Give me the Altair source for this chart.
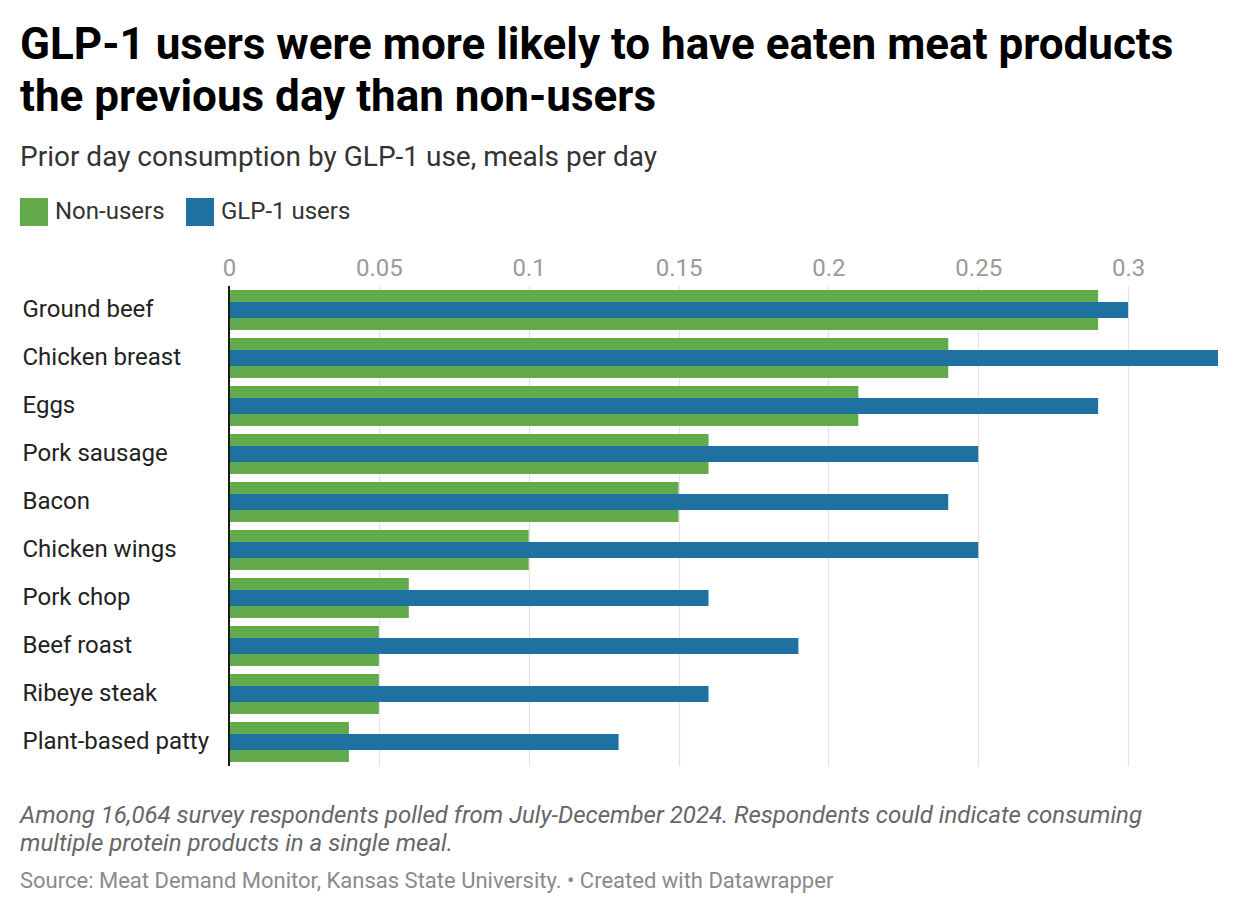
import altair as alt
import pandas as pd

# Prior-day consumption, meals per day
products = [
    "Ground beef", "Chicken breast", "Eggs", "Pork sausage", "Bacon",
    "Chicken wings", "Pork chop", "Beef roast", "Ribeye steak", "Plant-based patty",
]
non_users = [0.29, 0.24, 0.21, 0.16, 0.15, 0.10, 0.06, 0.05, 0.05, 0.04]
glp1_users = [0.30, 0.33, 0.29, 0.25, 0.24, 0.25, 0.16, 0.19, 0.16, 0.13]
groups = ["Non-users", "GLP-1 users"]
group_colors = ["#62aa4b", "#1f72a0"]
x_ticks = [0, 0.05, 0.1, 0.15, 0.2, 0.25, 0.3]

title_lines = [
    "GLP-1 users were more likely to have eaten meat products",
    "the previous day than non-users",
]
subtitle = "Prior day consumption by GLP-1 use, meals per day"
notes = [
    "Among 16,064 survey respondents polled from July-December 2024. Respondents could indicate consuming",
    "multiple protein products in a single meal.",
]
source = "Source: Meat Demand Monitor, Kansas State University. • Created with Datawrapper"

FONT = "Roboto"
LEFT, TOP = 229, 286          # plot origin inside the page
W, H = 989, 480

df = pd.DataFrame({
    "product": products * 2,
    "group": [groups[0]] * len(products) + [groups[1]] * len(products),
    "value": non_users + glp1_users,
})

color = alt.Color(
    "group:N",
    scale=alt.Scale(domain=groups, range=group_colors),
    legend=alt.Legend(
        title=None, orient="none", legendX=20 - LEFT, legendY=198 - TOP,
        direction="horizontal", symbolType="square", symbolSize=784,
        symbolStrokeWidth=0, symbolOpacity=1, labelFontSize=24,
        labelFont=FONT, labelColor="#333333", labelOffset=7,
        columnPadding=21,
    ),
)

y_enc = alt.Y(
    "product:N", sort=products, title=None,
    scale=alt.Scale(paddingInner=1 / 6, paddingOuter=1 / 12),
    axis=alt.Axis(
        orient="left", domain=False, ticks=False, tickSize=0,
        labelAlign="left", labelPadding=LEFT - 22, labelFontSize=24,
        labelFont=FONT, labelColor="#222222", labelLimit=300,
    ),
)

x_enc = alt.X(
    "value:Q", title=None,
    scale=alt.Scale(domain=[0, 0.33], nice=False, zero=True),
    axis=alt.Axis(
        orient="top", values=x_ticks, format=".2~f", domain=False,
        ticks=False, tickSize=0, labelFontSize=24, labelFont=FONT,
        labelColor="#9a9a9a", labelPadding=11, labelBaseline="alphabetic",
        grid=True, gridColor="#e3e3e3", gridWidth=1.2,
        labelFlush=False,
    ),
)

base = alt.Chart(df)

green = base.transform_filter(alt.datum.group == groups[0]).mark_bar(size=40).encode(
    x=x_enc, y=y_enc, color=color
)
blue = base.transform_filter(alt.datum.group == groups[1]).mark_bar(size=16).encode(
    x=alt.X("value:Q"), y=alt.Y("product:N", sort=products), color=color
)

zero_line = alt.Chart(pd.DataFrame({"z": [0]})).mark_rule(
    color="#1a1a1a", strokeWidth=2
).encode(x="z:Q")


def label(text, x, y, size, color, weight="normal", style="normal"):
    return alt.Chart(pd.DataFrame({"t": [text]})).mark_text(
        align="left", baseline="alphabetic", font=FONT, fontSize=size,
        color=color, fontWeight=weight, fontStyle=style,
    ).encode(text="t:N", x=alt.value(x - LEFT), y=alt.value(y - TOP))


texts = [
    label(title_lines[0], 20, 59, 44, "#000000", weight="bold"),
    label(title_lines[1], 20, 111, 44, "#000000", weight="bold"),
    label(subtitle, 20, 166, 28, "#333333"),
    label(notes[0], 20, 823, 24, "#666666", style="italic"),
    label(notes[1], 20, 851, 24, "#666666", style="italic"),
    label(source, 20, 888, 22, "#8a8a8a"),
]

chart = alt.layer(green, blue, zero_line, *texts).properties(
    width=W, height=H,
    autosize=alt.AutoSizeParams(type="none"),
    padding={"left": LEFT, "top": TOP, "right": 1240 - LEFT - W, "bottom": 914 - TOP - H},
    background="#ffffff",
).configure_view(stroke=None)

chart.save("out.html", embed_options={"renderer": "svg", "actions": False})
